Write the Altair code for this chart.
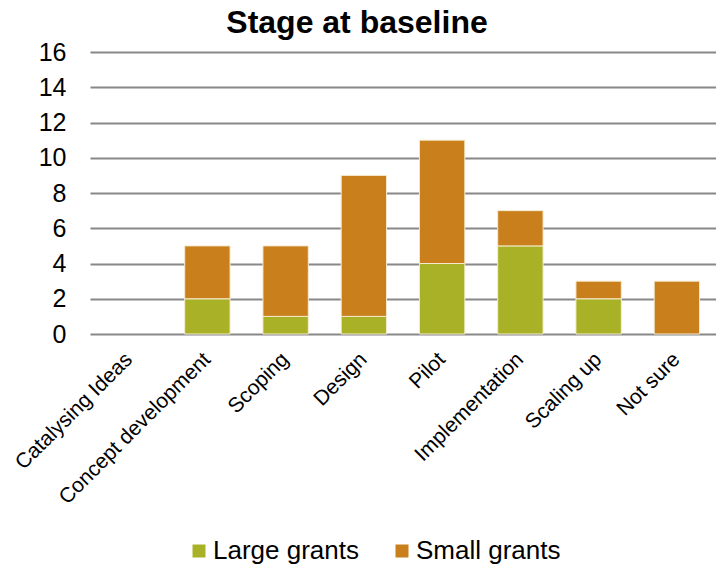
import altair as alt
import pandas as pd

stages = [
    "Catalysing Ideas",
    "Concept development",
    "Scoping",
    "Design",
    "Pilot",
    "Implementation",
    "Scaling up",
    "Not sure",
]
large_grants = [0, 2, 1, 1, 4, 5, 2, 0]
small_grants = [0, 3, 4, 8, 7, 2, 1, 3]
series = ["Large grants", "Small grants"]
colors = ["#A9B227", "#C9801C"]

rows = []
for i, s in enumerate(stages):
    rows.append({"Stage": s, "Grant": series[0], "Count": large_grants[i], "ord": 0})
    rows.append({"Stage": s, "Grant": series[1], "Count": small_grants[i], "ord": 1})
df = pd.DataFrame(rows)

FONT = "Liberation Sans"

bars = (
    alt.Chart(df)
    .transform_filter(alt.datum.Count > 0)
    .mark_bar(stroke="#F6EBD0", strokeWidth=1)
    .encode(
        x=alt.X(
            "Stage:N",
            sort=stages,
            title=None,
            scale=alt.Scale(domain=stages, paddingInner=0.42, paddingOuter=0.21),
            axis=alt.Axis(
                labelAngle=-45,
                labelAlign="right",
                labelBaseline="middle",
                labelPadding=22,
                labelFontSize=21,
                labelFont=FONT,
                labelColor="#000000",
                labelLimit=400,
                domain=False,
                ticks=False,
                grid=False,
            ),
        ),
        y=alt.Y(
            "Count:Q",
            stack="zero",
            title=None,
            scale=alt.Scale(domain=[0, 16], nice=False),
            axis=alt.Axis(
                values=list(range(0, 17, 2)),
                labelFontSize=25,
                labelFont=FONT,
                labelColor="#000000",
                labelPadding=24,
                domain=False,
                ticks=False,
                grid=True,
                gridColor="#888888",
                gridWidth=2,
            ),
        ),
        color=alt.Color(
            "Grant:N",
            scale=alt.Scale(domain=series, range=colors),
            legend=alt.Legend(
                title=None,
                orient="none",
                direction="horizontal",
                legendX=96,
                legendY=486,
                symbolType="square",
                symbolSize=169,
                symbolStrokeWidth=0,
                labelFontSize=26,
                labelFont=FONT,
                labelColor="#000000",
                labelOffset=1,
                columnPadding=30,
            ),
        ),
        order=alt.Order("ord:Q", sort="ascending"),
    )
)

chart = (
    bars.properties(
        width=626,
        height=282,
        title=alt.TitleParams(
            "Stage at baseline",
            fontSize=32,
            font=FONT,
            fontWeight="bold",
            color="#000000",
            anchor="middle",
            dx=-46,
            offset=0,
        ),
        autosize=alt.AutoSizeParams(type="none"),
        padding={"left": 90, "top": 52, "right": 0, "bottom": 231},
    )
    .configure_view(stroke=None)
)

chart.save("out.html", embed_options={"renderer": "svg", "actions": False})
